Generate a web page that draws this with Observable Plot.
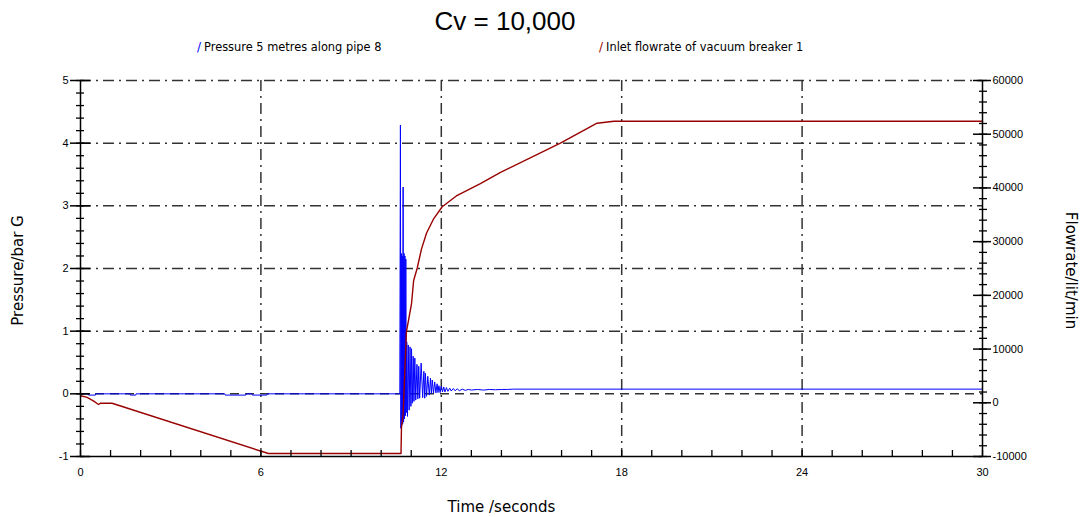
<!DOCTYPE html>
<html><head><meta charset="utf-8">
<script src="https://cdn.jsdelivr.net/npm/d3@7"></script>
<script src="https://cdn.jsdelivr.net/npm/@observablehq/plot@0.6"></script>
<style>
body{margin:0;background:#fff;font-family:"Liberation Sans",Arial,sans-serif;}
#wrap{position:relative;width:1089px;height:517px;overflow:hidden;}
#title{position:absolute;left:0;width:1010px;top:6px;text-align:center;font-size:26px;color:#000;}
.leg{position:absolute;top:40px;font-size:11.4px;color:#000;white-space:nowrap;font-family:"DejaVu Sans",sans-serif;}
.leg span{font-size:12px;margin-right:3px;}
#chart{position:absolute;left:0;top:62px;}
</style></head>
<body><div id="wrap">
<div id="title">Cv = 10,000</div>
<div class="leg" style="left:197px"><span style="color:#0000ff">/</span>Pressure 5 metres along pipe 8</div>
<div class="leg" style="left:599px"><span style="color:#990000">/</span>Inlet flowrate of vacuum breaker 1</div>
<div id="chart"></div>
</div>
<script>
// Pressure 5 metres along pipe 8 (bar G)
const blueT = [0,0.26,0.27,0.5,0.51,1.65,1.66,1.84,1.85,4.8,4.81,5.5,5.52,5.7,5.72,6.2,6.22,10.62,
 10.64,10.655,10.67,10.685,10.70,10.715,10.73,10.745,10.76,10.775,10.79,10.805,10.82,10.835,
 10.85,10.875,10.90,10.93,10.96,10.99,11.01,11.035,11.065,11.09,11.12,11.15,11.19,11.22,11.25,11.28,
 11.33,11.38,11.42,11.45,11.47,11.51,11.55,11.6,11.64,11.67,11.70,11.74,11.78,11.82,11.86,11.89,
 11.92,11.96,12.0,12.04,12.08,12.12,12.17,12.22,12.28,12.33,12.4,12.46,12.53,12.6,12.7,12.8,12.9,
 13.0,13.2,13.4,13.6,13.8,14.0,14.2,14.4,30];
const blueP = [0,0,-0.02,-0.02,0,0,-0.02,-0.02,0,0,-0.02,-0.02,0,0,-0.02,-0.02,0,0,
 4.29,-0.55,2.24,-0.5,2.2,-0.48,3.30,-0.45,2.24,-0.4,2.2,-0.35,2.15,-0.3,
 0.83,-0.36,0.78,-0.26,0.75,-0.2,0.72,-0.15,0.6,-0.12,0.57,-0.1,0.47,-0.08,0.44,-0.07,
 0.49,-0.06,0.36,-0.07,0.33,-0.04,0.28,-0.02,0.25,0.0,0.22,0.01,0.19,0.015,0.16,0.02,
 0.13,0.02,0.12,0.03,0.11,0.03,0.1,0.04,0.09,0.045,0.085,0.05,0.08,0.05,0.075,0.055,0.07,
 0.06,0.07,0.06,0.07,0.065,0.07,0.07,0.075,0.075];
// Inlet flowrate of vacuum breaker 1 (lit/min)
const redT = [0,0.22,0.44,0.6,0.67,1.05,6.04,6.25,10.66,10.675,10.73,10.79,10.84,10.92,11.01,11.08,
 11.20,11.34,11.51,11.75,12.03,12.50,13.30,13.97,15.96,17.18,17.74,30];
const redFlow = [1300,1000,300,-320,-80,-80,-9070,-9440,-9440,-4600,-2180,6380,13270,15690,18480,22770,
 25090,28600,31600,34300,36500,38500,40800,42900,48330,52050,52420,52420];

const xLabels = [0,6,12,18,24,30];
const xMinor = d3.range(0,31,1);
const xGrid = [6,12,18,24];
const yGrid = [1,2,3,4,5];
const zeroLine = [0];
const pMajor = [-1,0,1,2,3,4,5];
const pMinor = d3.range(-1,5.0001,0.2);
const flowMajor = [-10000,0,10000,20000,30000,40000,50000,60000];
const flowMinor = d3.range(-10000,60001,2000);

const fMin=-10000,fMax=60000,pMin=-1,pMax=5;
const toP = f => pMin + (f - fMin) * (pMax - pMin) / (fMax - fMin);
const toF = p => fMin + (p - pMin) * (fMax - fMin) / (pMax - pMin);

const blue = blueT.map((t,i)=>({t, p: blueP[i]}));
const red = redT.map((t,i)=>({t, p: toP(redFlow[i])}));

const gridStyle = {stroke:"#333", strokeWidth:1.5, strokeDasharray:"11,5,2,5"};
const titleFont = "'DejaVu Sans', sans-serif";

const plot = Plot.plot({
  width:1089, height:455,
  marginLeft:80, marginRight:107, marginTop:18, marginBottom:61,
  style:{fontFamily:"'Liberation Sans', Arial, sans-serif", fontSize:"11px", background:"#fff", color:"#000"},
  x:{domain:[0,30], axis:null},
  y:{domain:[pMin,pMax], axis:null},
  marks:[
    Plot.ruleX(xGrid, gridStyle),
    Plot.ruleY(yGrid, gridStyle),
    Plot.ruleY(zeroLine, {stroke:"#333", strokeWidth:1.5, strokeDasharray:"9,6"}),
    Plot.line(blue, {x:"t", y:"p", stroke:"#0000ff", strokeWidth:1}),
    Plot.line(red, {x:"t", y:"p", stroke:"#990000", strokeWidth:1.4}),
    Plot.ruleX([0,30], {stroke:"#000", strokeWidth:1.5}),
    Plot.ruleY([pMin], {stroke:"#000", strokeWidth:1.5}),
    // left axis
    Plot.axisY(pMajor, {anchor:"left", tickSize:20, insetLeft:10, fill:"none", label:null, stroke:"#000", strokeWidth:1.5}),
    Plot.axisY(pMinor, {anchor:"left", tickSize:8, insetLeft:4, fill:"none", label:null, stroke:"#000", strokeWidth:1.3}),
    Plot.axisY(pMajor, {anchor:"left", tickSize:0, tickPadding:12, tickFormat:d=>String(d), label:null}),
    // right axis
    Plot.axisY(flowMajor.map(toP), {anchor:"right", tickSize:18, insetRight:10, fill:"none", label:null, stroke:"#000", strokeWidth:1.5}),
    Plot.axisY(flowMinor.map(toP), {anchor:"right", tickSize:8, insetRight:4, fill:"none", label:null, stroke:"#000", strokeWidth:1.3}),
    Plot.axisY(flowMajor.map(toP), {anchor:"right", tickSize:0, tickPadding:10, tickFormat:d=>String(Math.round(toF(d)/1000)*1000), label:null}),
    // bottom axis
    Plot.axisX(xMinor, {anchor:"bottom", tickSize:6, insetBottom:6, fill:"none", label:null, stroke:"#000", strokeWidth:1.3}),
    Plot.axisX(xLabels, {anchor:"bottom", tickSize:0, tickPadding:12, tickFormat:d=>String(d), label:null}),
    // axis titles
    Plot.text(["Pressure/bar G"], {frameAnchor:"left", dx:-62, dy:2, rotate:-90, textAnchor:"middle", lineAnchor:"middle", fontSize:15, fontFamily:titleFont, fill:"#000"}),
    Plot.text(["Flowrate/lit/min"], {frameAnchor:"right", dx:88, dy:2, rotate:90, textAnchor:"middle", lineAnchor:"middle", fontSize:15, fontFamily:titleFont, fill:"#000"}),
    Plot.text(["Time /seconds"], {frameAnchor:"bottom", dy:51, dx:-30, textAnchor:"middle", lineAnchor:"middle", fontSize:15, fontFamily:titleFont, fill:"#000"})
  ]
});
document.getElementById("chart").appendChild(plot);
</script>
</body></html>
